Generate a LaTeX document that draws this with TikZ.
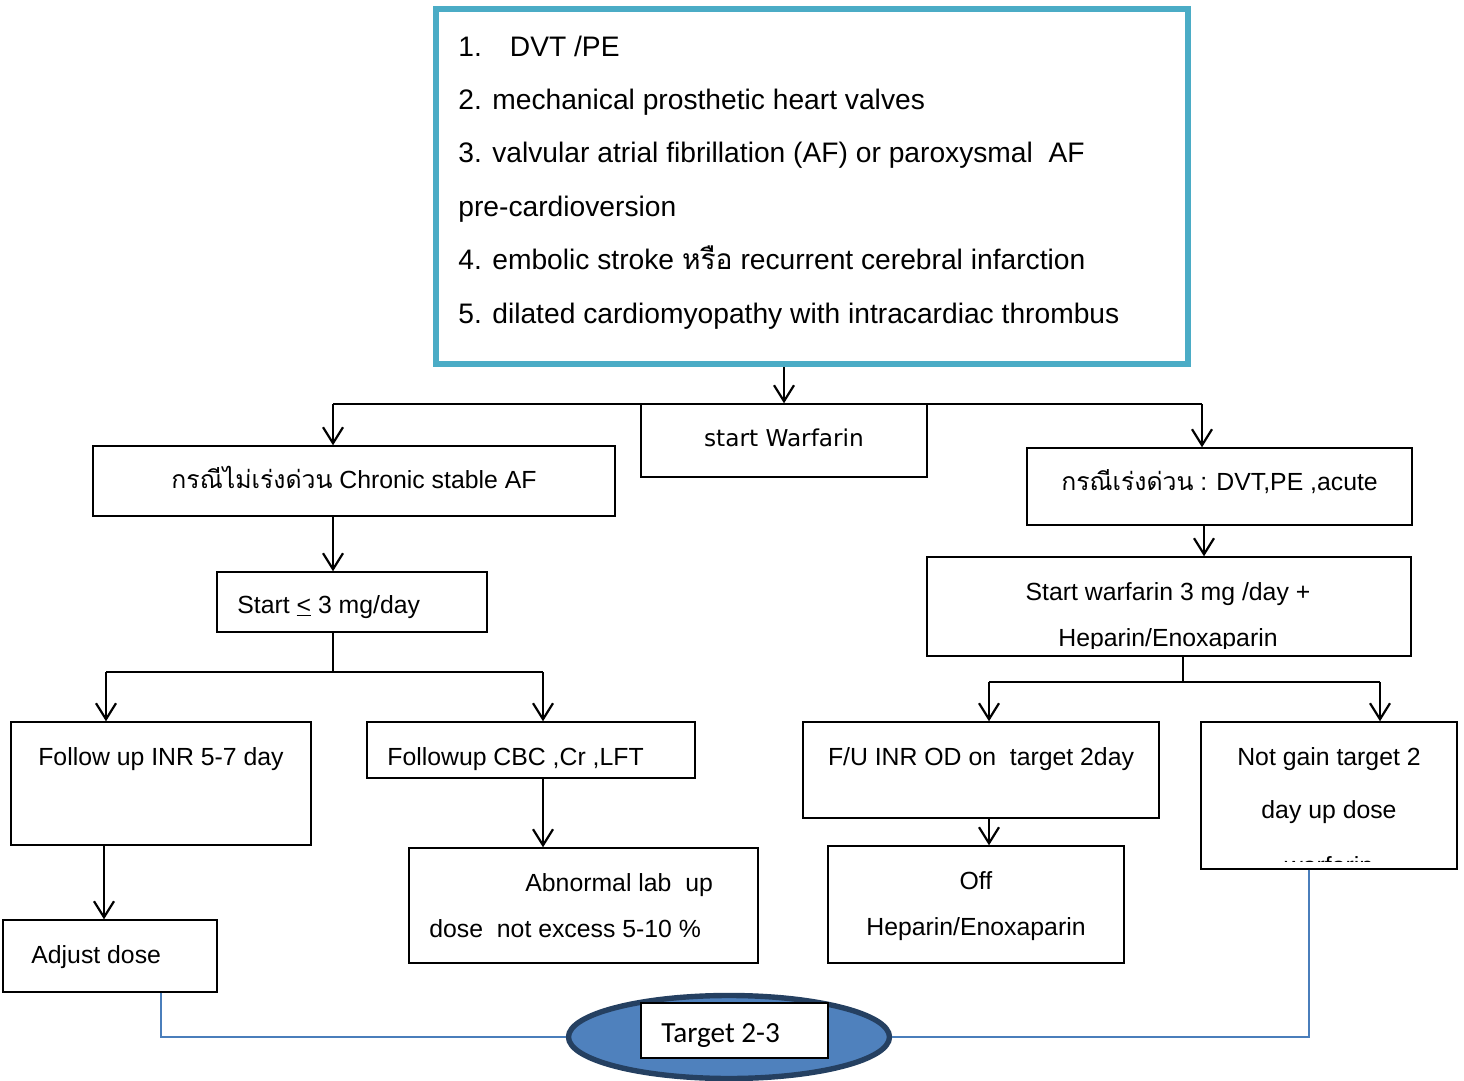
\documentclass[tikz,border=0pt]{standalone}
\usepackage{fontspec}
\setmainfont{Liberation Sans}
\newfontfamily\thaif[Script=Thai]{Loma}
\newfontfamily\tahf{DejaVu Sans}
\newfontfamily\calf{Carlito}
\usetikzlibrary{arrows.meta,shapes.geometric}
\definecolor{topblue}{HTML}{4BACC6}
\definecolor{ellfill}{HTML}{4F81BD}
\definecolor{elldraw}{HTML}{254061}
\definecolor{linkblue}{HTML}{4A7EBB}
\begin{document}
\begin{tikzpicture}[x=0.5pt,y=-0.5pt,
  bx/.style={draw, line width=0.7pt, rectangle, inner sep=0pt},
  arr/.style={line width=1.1pt, -{Straight Barb[length=8pt,width=10pt]}},
  ln/.style={line width=1.1pt},
  bl/.style={draw=linkblue, line width=0.9pt},
  tx/.style={inner sep=0pt, font=\fontsize{12.4}{15}\selectfont},
  big/.style={inner sep=0pt, anchor=base west, font=\fontsize{14.1}{17}\selectfont}]
\fill[white] (0,0) rectangle (1464,1081);
\useasboundingbox (0,0) rectangle (1464,1081);

% top box
\node[draw=topblue, line width=3pt, rectangle, inner sep=0pt, minimum width=376pt, minimum height=177.5pt] (top) at (812,186.5) {};
\node[big] (l1) at (458,57) {1.\hspace{14pt}DVT /PE};
\node[big] (l2) at (458,110) {2. mechanical prosthetic heart valves};
\node[big] (l3) at (458,163) {3. valvular atrial fibrillation (AF) or paroxysmal\ \ AF};
\node[big] (l4) at (458,217) {pre-cardioversion};
\node[big] (l5) at (458,270) {4. embolic stroke {\thaif หรือ} recurrent cerebral infarction};
\node[big] (l6) at (458,323) {5. dilated cardiomyopathy with intracardiac thrombus};

% boxes
\node[bx, minimum width=143pt, minimum height=36.5pt] (startW) at (784,440.5) {};
\node[bx, minimum width=261pt, minimum height=35pt] (nonurg) at (354,481) {};
\node[bx, minimum width=135pt, minimum height=30pt] (start3) at (352,602) {};
\node[bx, minimum width=150pt, minimum height=61.5pt] (fuinr) at (161,783.5) {};
\node[bx, minimum width=164pt, minimum height=28pt] (cbc) at (531,750) {};
\node[bx, minimum width=174.5pt, minimum height=57.5pt] (abn) at (583.5,905.5) {};
\node[bx, minimum width=107pt, minimum height=36pt] (adj) at (110,956) {};
\node[bx, minimum width=192.5pt, minimum height=38.5pt] (urg) at (1219.5,486.5) {};
\node[bx, minimum width=242pt, minimum height=49.5pt] (sw3) at (1169,606.5) {};
\node[bx, minimum width=178pt, minimum height=48pt] (fuod) at (981,770) {};
\node[bx, minimum width=148pt, minimum height=58.5pt] (off) at (976,904.5) {};
\node[bx, minimum width=128pt, minimum height=73.5pt] (notgain) at (1329,795.5) {};

% texts
\node[inner sep=0pt, anchor=base, font=\fontsize{11.6}{14}\tahf] (tStartW) at (784,446) {start Warfarin};
\node[tx, anchor=base] (tNonurg) at (354,488) {{\thaif กรณีไม่เร่งด่วน} Chronic stable AF};
\node[tx, anchor=base west] (tStart3) at (237,613) {Start \underline{<} 3 mg/day};
\node[tx, anchor=base] (tFuinr) at (161,765) {Follow up INR 5-7 day};
\node[tx, anchor=base west] (tCbc) at (387,765) {Followup CBC ,Cr ,LFT};
\node[tx, anchor=base west] (tAbn1) at (525,891) {Abnormal lab\ \ up};
\node[tx, anchor=base west] (tAbn2) at (429,937) {dose\ \ not excess 5-10 \%};
\node[tx, anchor=base west] (tAdj) at (31,963) {Adjust dose};
\node[tx, anchor=base] (tUrg) at (1219.5,490) {{\thaif กรณีเร่งด่วน} : DVT,PE ,acute};
\node[tx, anchor=base] (tSw1) at (1168,600) {Start warfarin 3 mg /day +};
\begin{scope}
\clip (927,557) rectangle (1411,648);
\node[tx, anchor=base] (tSw2) at (1168,646) {Heparin/Enoxaparin};
\end{scope}
\node[tx, anchor=base] (tFuod) at (981,765) {F/U INR OD on\ \ target 2day};
\node[tx, anchor=base] (tOff1) at (976,889) {Off};
\node[tx, anchor=base] (tOff2) at (976,935) {Heparin/Enoxaparin};
\node[tx, anchor=base] (tNg1) at (1329,765) {Not gain target 2};
\node[tx, anchor=base] (tNg2) at (1329,818) {day up dose};
\begin{scope}
\clip (1201,722) rectangle (1457,861);
\node[tx, anchor=base] (tNg3) at (1329,874) {warfarin};
\end{scope}

% connectors
\coordinate (jL) at (333,404);
\coordinate (jR) at (1202,404);
\draw[arr] (top.south -| startW.north) -- (startW.north);
\draw[ln] (jL) -- (jR);
\draw[arr] (jL) -- (jL |- nonurg.north);
\draw[arr] (jR) -- (jR |- urg.north);
\draw[arr] (jL |- nonurg.south) -- (jL |- start3.north);
\coordinate (jL2) at (333,672);
\coordinate (a1) at (106,672);
\coordinate (a2) at (543,672);
\draw[ln] (jL |- start3.south) -- (jL2);
\draw[ln] (a1) -- (a2);
\draw[arr] (a1) -- (a1 |- fuinr.north);
\draw[arr] (a2) -- (a2 |- cbc.north);
\draw[arr] (a2 |- cbc.south) -- (a2 |- abn.north);
\coordinate (a3) at (104,845);
\draw[arr] (a3 |- fuinr.south) -- (a3 |- adj.north);
\coordinate (jR2) at (1204,525);
\draw[arr] (jR2 |- urg.south) -- (jR2 |- sw3.north);
\coordinate (b0) at (1183,682);
\coordinate (b1) at (989,682);
\coordinate (b2) at (1380,682);
\draw[ln] (b0 |- sw3.south) -- (b0);
\draw[ln] (b1) -- (b2);
\draw[arr] (b1) -- (b1 |- fuod.north);
\draw[arr] (b2) -- (b2 |- notgain.north);
\draw[arr] (b1 |- fuod.south) -- (b1 |- off.north);

% target
\node[ellipse, draw=elldraw, fill=ellfill, line width=2.7pt, minimum width=160.5pt, minimum height=41.5pt, inner sep=0pt] (ell) at (729,1037) {};
\node[bx, fill=white, minimum width=93.5pt, minimum height=27.5pt] (target) at (734.5,1030.5) {};
\node[inner sep=0pt, anchor=base west, font=\fontsize{14.6}{17}\calf] (tTarget) at (661,1042) {Target 2-3};

\coordinate (c1) at (161,1037);
\coordinate (c2) at (1309,1037);
\draw[bl] (c1 |- adj.south) -- (c1) -- (ell.west);
\draw[bl] (c2 |- notgain.south) -- (c2) -- (ell.east);
\end{tikzpicture}
\end{document}
